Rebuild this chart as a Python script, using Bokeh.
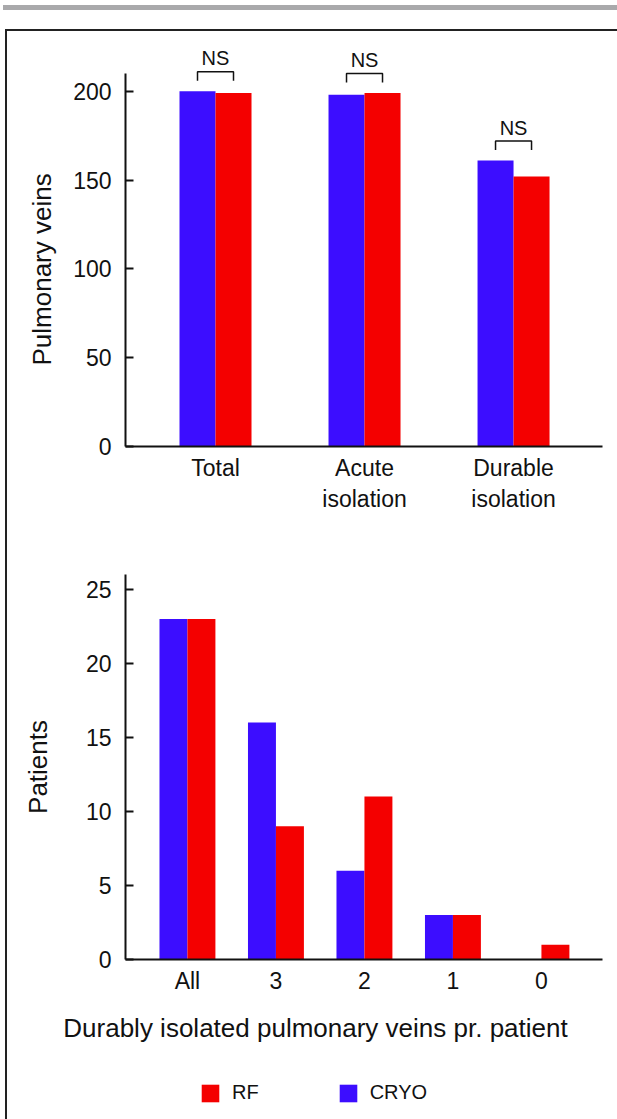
from bokeh.plotting import figure
from bokeh.layouts import column, row
from bokeh.models import (Div, Spacer, FixedTicker, Legend, LegendItem, Title,
                          ColumnDataSource, Range1d)
from bokeh.core.properties import value
from bokeh.embed import file_html
from bokeh.resources import INLINE

# ---------------- data ----------------
veins_groups = ["Total", "Acute\nisolation", "Durable\nisolation"]
veins_cryo = [200, 198, 161]
veins_rf = [199, 199, 152]
veins_sig = ["NS", "NS", "NS"]
veins_ticks = [0, 50, 100, 150, 200]

pv_groups = ["All", "3", "2", "1", "0"]
patients_cryo = [23, 16, 6, 3, 0]
patients_rf = [23, 9, 11, 3, 1]
patients_ticks = [0, 5, 10, 15, 20, 25]
pv_title = "Durably isolated pulmonary veins pr. patient"
series_names = ["RF", "CRYO"]

CRYO = "#3c0dff"
RF = "#f40000"
INK = "#111111"
FONT = "Liberation Sans"


def style_axes(p):
    for ax in (p.xaxis[0], p.yaxis[0]):
        ax.axis_line_width = 2
        ax.axis_line_color = INK
        ax.major_label_text_font = FONT
        ax.major_label_text_font_size = "23px"
        ax.major_label_text_color = INK
        ax.axis_label_text_font = FONT
        ax.axis_label_text_font_size = "26px"
        ax.axis_label_text_font_style = "normal"
        ax.axis_label_text_color = INK
        ax.minor_tick_line_color = None
    p.xaxis.major_tick_line_color = None
    p.yaxis.major_tick_in = 8
    p.yaxis.major_tick_out = 0
    p.yaxis.major_tick_line_width = 2
    p.yaxis.major_tick_line_color = INK
    p.yaxis.major_label_standoff = 14
    p.xaxis.major_label_standoff = 2
    p.grid.visible = False
    p.outline_line_color = None
    p.background_fill_color = "white"
    p.border_fill_color = "white"


# ---------------- top chart ----------------
x1 = list(range(len(veins_groups)))
bw1 = 0.2416
p1 = figure(width=610, height=509, output_backend="svg", toolbar_location=None,
            x_range=Range1d(-0.604, 2.597), y_range=Range1d(0, 228.6),
            min_border_left=118, min_border_right=15, min_border_top=9,
            min_border_bottom=94)
src1 = ColumnDataSource(dict(xc=[i - bw1 / 2 for i in x1], xr=[i + bw1 / 2 for i in x1],
                             cryo=veins_cryo, rf=veins_rf))
p1.vbar(x="xc", top="cryo", width=bw1, source=src1, fill_color=CRYO, line_color=None)
p1.vbar(x="xr", top="rf", width=bw1, source=src1, fill_color=RF, line_color=None)

br_xs, br_ys, ns_x, ns_y = [], [], [], []
for i, (c, r) in enumerate(zip(veins_cryo, veins_rf)):
    top = max(c, r) + 11
    leg = top - 5
    br_xs.append([i - bw1 / 2, i - bw1 / 2, i + bw1 / 2, i + bw1 / 2])
    br_ys.append([leg, top, top, leg])
    ns_x.append(i)
    ns_y.append(top + 7.5)
p1.multi_line(xs=br_xs, ys=br_ys, line_color=INK, line_width=1.5)
p1.text(x=ns_x, y=ns_y, text=veins_sig, text_align="center", text_baseline="middle",
        text_font=value(FONT), text_font_size="20px", text_color=INK)

style_axes(p1)
p1.yaxis.ticker = FixedTicker(ticks=veins_ticks)
p1.yaxis.bounds = (0, 210)
p1.xaxis.ticker = FixedTicker(ticks=x1)
p1.xaxis.major_label_overrides = {i: g for i, g in enumerate(veins_groups)}
yt = Title(text="Pulmonary veins", align="left", offset=81,
           text_font=FONT, text_font_size="26px", text_font_style="normal",
           text_color=INK, standoff=28)
p1.add_layout(yt, "left")

# ---------------- bottom chart ----------------
x2 = list(range(len(pv_groups)))
bw2 = 0.316
p2 = figure(width=610, height=460, output_backend="svg", toolbar_location=None,
            x_range=Range1d(-0.70, 4.69), y_range=Range1d(0, 26),
            min_border_left=118, min_border_right=15, min_border_top=34,
            min_border_bottom=41)
src2 = ColumnDataSource(dict(xc=[i - bw2 / 2 for i in x2], xr=[i + bw2 / 2 for i in x2],
                             cryo=patients_cryo, rf=patients_rf))
p2.vbar(x="xc", top="cryo", width=bw2, source=src2, fill_color=CRYO, line_color=None)
p2.vbar(x="xr", top="rf", width=bw2, source=src2, fill_color=RF, line_color=None)

style_axes(p2)
p2.yaxis.ticker = FixedTicker(ticks=patients_ticks)
p2.xaxis.ticker = FixedTicker(ticks=x2)
p2.xaxis.major_label_overrides = {i: g for i, g in enumerate(pv_groups)}
p2.yaxis.axis_label = "Patients"
p2.yaxis.axis_label_standoff = 30

# ---------------- x title + legend strip (pixel-like ranges, y downward) ----------------
p3 = figure(width=610, height=119, output_backend="svg", toolbar_location=None,
            x_range=Range1d(0, 610), y_range=Range1d(119, 0),
            x_axis_location=None, y_axis_location=None,
            min_border_left=0, min_border_right=0, min_border_top=0, min_border_bottom=0)
p3.frame_align = False
p3.grid.visible = False
p3.outline_line_color = None
p3.border_fill_color = "white"
p3.text(x=[308], y=[27], text=[pv_title], text_align="center", text_baseline="middle",
        text_font=value(FONT), text_font_size="26px", text_color=INK)
# legend swatches: the same bar series on a range kept out of view in this strip
p3.extra_x_ranges = {"bars": Range1d(-0.70, 4.69)}
p3.extra_y_ranges = {"bars": Range1d(1000, 1100)}
sw_rf = p3.vbar(x="xr", top="rf", width=bw2, source=src2, fill_color=RF, line_color=None,
                x_range_name="bars", y_range_name="bars")
sw_cryo = p3.vbar(x="xc", top="cryo", width=bw2, source=src2, fill_color=CRYO, line_color=None,
                  x_range_name="bars", y_range_name="bars")
leg = Legend(items=[LegendItem(label=series_names[0], renderers=[sw_rf]),
                    LegendItem(label=series_names[1], renderers=[sw_cryo])],
             orientation="horizontal", location=(192, 15),
             glyph_width=22, glyph_height=22, label_height=22,
             label_standoff=11, spacing=78, padding=0, margin=0,
             border_line_color=None, background_fill_alpha=0,
             label_text_font=FONT, label_text_font_size="20px", label_text_color=INK)
p3.add_layout(leg)

# ---------------- page frame ----------------
Z = (0, 0, 0, 0)
bar = Div(text="", width=614, height=5, margin=Z, styles={"background-color": "#a9a9ab"})
top_border = Div(text="", width=612, height=2, margin=Z, styles={"background-color": "#222222"})
left_border = Div(text="", width=2, height=1088, margin=Z, styles={"background-color": "#222222"})
layout = column(
    Spacer(width=617, height=5, margin=Z),
    row(Spacer(width=3, height=5, margin=Z), bar),
    Spacer(width=617, height=19, margin=Z),
    row(Spacer(width=5, height=1090, margin=Z),
        column(top_border, row(left_border, column(p1, p2, p3)))),
)

open("out.html", "w").write(file_html(layout, INLINE))
